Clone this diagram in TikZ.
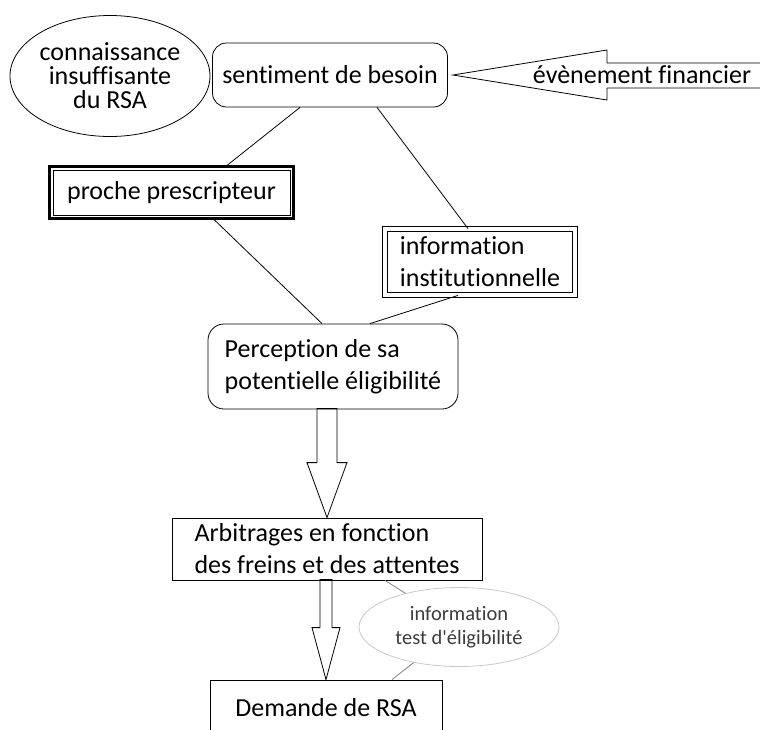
\documentclass[tikz,border=0pt]{standalone}
\usepackage{fontspec}
\setmainfont{Carlito}[Ligatures={TeXOff,NoCommon}]
\usetikzlibrary{shapes.geometric}
\definecolor{lightline}{RGB}{200,200,200}
\definecolor{midline}{RGB}{128,128,128}
\definecolor{smalltext}{RGB}{60,60,60}
\begin{document}
\begin{tikzpicture}[x=1pt, y=-1pt, line width=0.8pt,
    every node/.style={font=\fontsize{26}{32}\selectfont},
    box/.style={draw, minimum width=#1, inner sep=0pt},
    round box/.style={box=#1, rounded corners=15pt},
    bubble/.style={ellipse, draw, inner sep=0pt, align=center}]
    \useasboundingbox (0,0) rectangle (760,729);
    \node[bubble, minimum width=200pt, minimum height=121pt, font=\fontsize{26}{24}\selectfont] (connaissance) at (110,76) {connaissance\\insuffisante\\du RSA};
    \node[round box=235pt, minimum height=64pt, rounded corners=14pt] (sentiment) at (330,75) {sentiment de besoin};
    \node[box=244pt, minimum height=52pt, line width=3pt] (proche) at (171.5,192.5) {proche prescripteur};
    \draw ([shift={(5pt,-5pt)}]proche.north west) rectangle ([shift={(-5pt,5pt)}]proche.south east);
    \node[box=190pt, minimum height=66pt, double, double distance=4pt, align=left] (info) at (480,262) {information\\institutionnelle};
    \node[round box=250pt, minimum height=85pt, rounded corners=16pt, align=left] (perception) at (333,366.5) {Perception de sa\\potentielle éligibilité};
    \node[box=310pt, minimum height=62pt, align=left] (arbitrages) at (327,549) {Arbitrages en fonction\\des freins et des attentes};
    \node[box=232pt, minimum height=56pt] (demande) at (326,708) {Demande de RSA};
    \node[bubble, draw=lightline, text=smalltext, minimum width=200pt, minimum height=79pt, font=\fontsize{20.5}{24}\selectfont] (test) at (459,627) {information\\test d'éligibilité};
    \draw[shift={([xshift=5pt]sentiment.east)}] (0,0) -- (154,-25) -- (154,-12) -- (330,-12) -- (330,13) -- (154,13) -- (154,25) -- cycle;
    \node (evenement) at (642,75) {évènement financier};
    \draw ([xshift=-30pt]sentiment.south) -- ([xshift=56pt]proche.north);
    \draw ([xshift=47pt]sentiment.south) -- ([xshift=-12pt]info.north);
    \draw ([xshift=43pt]proche.south) -- ([xshift=-11pt]perception.north);
    \draw ([xshift=-22pt]info.south) -- ([xshift=37pt]perception.north);
    \draw[shift={(arbitrages.north)}] (0,0) -- (-20,-55) -- (-10,-55) -- (-10,-109) -- (10,-109) -- (10,-55) -- (20,-55) -- cycle;
    \draw[shift={(demande.north)}] (0,0) -- (-14,-52) -- (-6,-52) -- (-6,-100) -- (6,-100) -- (6,-52) -- (14,-52) -- cycle;
    \draw[midline] ([xshift=58pt]arbitrages.south) -- (test);
    \draw[midline] ([xshift=66pt]demande.north) -- (test);
\end{tikzpicture}
\end{document}
